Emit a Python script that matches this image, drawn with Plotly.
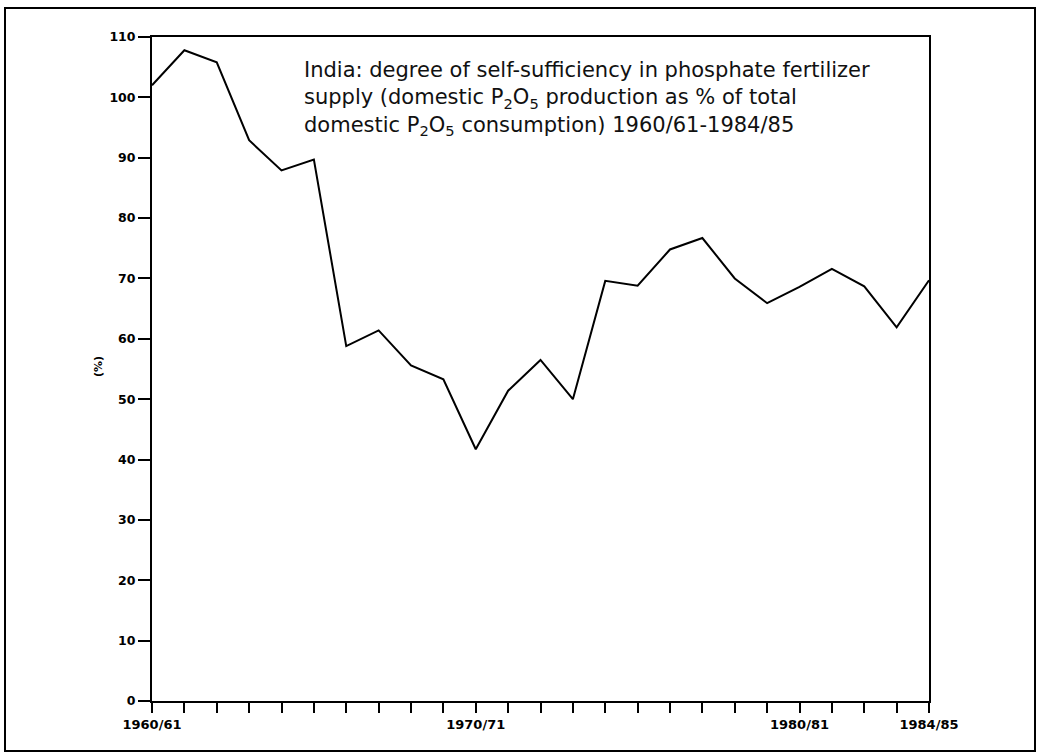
import plotly.graph_objects as go

# Crop years (start year of each season 1960/61 ... 1984/85)
years = [1960, 1961, 1962, 1963, 1964, 1965, 1966, 1967, 1968, 1969,
         1970, 1971, 1972, 1973, 1974, 1975, 1976, 1977, 1978, 1979,
         1980, 1981, 1982, 1983, 1984]

# Degree of self-sufficiency (%)
self_sufficiency = [102.0, 107.8, 105.8, 92.9, 87.9, 89.7, 58.8, 61.4, 55.6, 53.3,
                    41.7, 51.4, 56.5, 50.0, 69.6, 68.8, 74.8, 76.7, 70.0, 65.9,
                    68.6, 71.6, 68.7, 61.9, 69.7]

x_tick_years = [1960, 1970, 1980, 1984]
x_tick_labels = ["1960/61", "1970/71", "1980/81", "1984/85"]

y_tick_values = [0, 10, 20, 30, 40, 50, 60, 70, 80, 90, 100, 110]

title_lines = [
    "India: degree of self-sufficiency in phosphate fertilizer",
    "supply (domestic P<sub>2</sub>O<sub>5</sub> production as % of total",
    "domestic P<sub>2</sub>O<sub>5</sub> consumption) 1960/61-1984/85",
]

W, H = 1040, 754
L, R, T, B = 152, 111, 37, 53
pw, ph = W - L - R, H - T - B


def px_x(X):
    return (X - L) / pw


def px_y(Y):
    return (H - B - Y) / ph


fig = go.Figure()
fig.add_trace(go.Scatter(
    x=years, y=self_sufficiency, mode="lines",
    line=dict(color="black", width=2),
    cliponaxis=False, showlegend=False, hoverinfo="x+y",
))

fig.update_layout(
    width=W, height=H, autosize=False,
    margin=dict(l=L, r=R, t=T, b=B, pad=0),
    paper_bgcolor="white", plot_bgcolor="white",
    xaxis=dict(
        range=[1960, 1984], tickmode="array",
        tickvals=x_tick_years, ticktext=["<b>%s</b>" % t for t in x_tick_labels],
        ticks="outside", ticklen=10, tickwidth=1.5, tickcolor="black",
        minor=dict(dtick=1, tick0=1960, ticks="outside", ticklen=10,
                   tickwidth=1.5, tickcolor="black", showgrid=False),
        showline=True, linecolor="black", linewidth=2, mirror=True,
        showgrid=False, zeroline=False,
        tickfont=dict(family="DejaVu Sans", size=13, color="black"),
        fixedrange=True,
    ),
    yaxis=dict(
        range=[0, 110], tickmode="array", tickvals=y_tick_values,
        ticktext=["<b>%d</b>" % v for v in y_tick_values],
        ticks="outside", ticklen=12, tickwidth=1.5, tickcolor="black",
        showline=True, linecolor="black", linewidth=2, mirror=True,
        showgrid=False, zeroline=False,
        tickfont=dict(family="DejaVu Sans", size=12.5, color="black"),
        fixedrange=True,
    ),
    shapes=[dict(
        type="rect", xref="paper", yref="paper",
        x0=px_x(5), x1=px_x(1035), y0=px_y(751), y1=px_y(8),
        line=dict(color="black", width=2), fillcolor="rgba(0,0,0,0)",
        layer="below",
    )],
    annotations=[
        dict(
            text="<br>".join(title_lines), xref="paper", yref="paper",
            x=px_x(302), y=px_y(56), xanchor="left", yanchor="top",
            align="left", showarrow=False,
            font=dict(family="DejaVu Sans", size=21, color="#111111"),
        ),
        dict(
            text="<b>(%)</b>", xref="paper", yref="paper",
            x=px_x(98), y=px_y(367), xanchor="center", yanchor="middle",
            textangle=-90, showarrow=False,
            font=dict(family="DejaVu Sans", size=11, color="black"),
        ),
    ],
)

fig.write_html("out.html", config={"displayModeBar": False},
               post_script="document.body.style.margin='0';")
